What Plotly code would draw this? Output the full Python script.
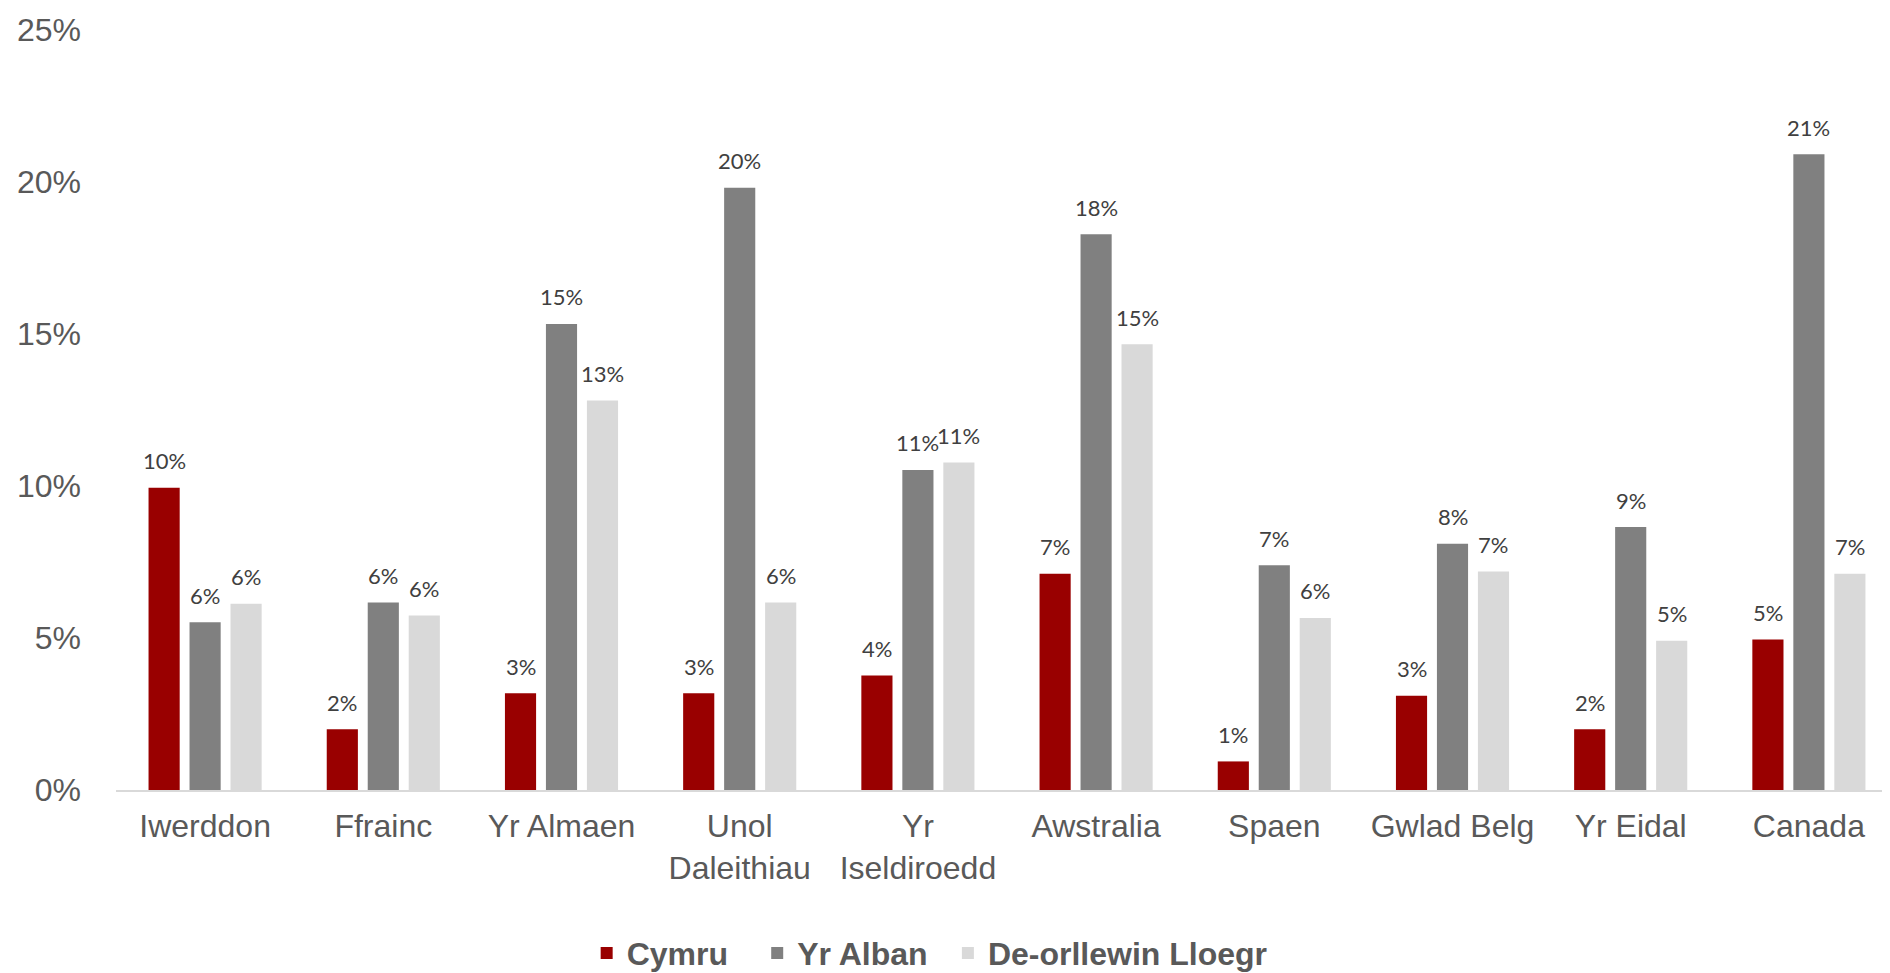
import plotly.graph_objects as go

categories = ["Iwerddon", "Ffrainc", "Yr Almaen", "Unol<br>Daleithiau", "Yr<br>Iseldiroedd",
              "Awstralia", "Spaen", "Gwlad Belg", "Yr Eidal", "Canada"]
cymru = [0.0994, 0.0200, 0.0318, 0.0318, 0.0377, 0.0711, 0.0094, 0.0310, 0.0200, 0.0495]
yr_alban = [0.0552, 0.0617, 0.1533, 0.1981, 0.1053, 0.1828, 0.0739, 0.0810, 0.0865, 0.2091]
de_orllewin = [0.0613, 0.0574, 0.1281, 0.0617, 0.1077, 0.1466, 0.0566, 0.0719, 0.0491, 0.0711]
series_names = ["Cymru", "Yr Alban", "De-orllewin Lloegr"]

colors = ["#990000", "#808080", "#d9d9d9"]
legend_pad = ["\u00a0\u00a0\u2009", "\u00a0\u2009", ""]

W, H = 1890, 973
ML, MR, MT, MB = 108, 0, 22, 182
BARGAP, BARGROUPGAP = 0.31, 0.24

fig = go.Figure()
for i, (name, vals) in enumerate(zip(series_names, [cymru, yr_alban, de_orllewin])):
    fig.add_trace(go.Bar(
        name=name + legend_pad[i], x=categories, y=vals,
        marker=dict(color=colors[i], line=dict(width=0)),
        hoverinfo="skip",
    ))

# data labels above each bar
cat_px = (W - ML - MR) / len(categories)
slot_px = (1 - BARGAP) * cat_px / 3
for i, vals in enumerate([cymru, yr_alban, de_orllewin]):
    for c, v in zip(categories, vals):
        fig.add_annotation(
            x=c, y=v, text=f"{round(v * 100):d}%", showarrow=False,
            xshift=(i - 1) * slot_px, yshift=27, yanchor="middle",
            font=dict(family="Lato", size=22, color="#404040"),
        )

fig.update_layout(
    width=W, height=H,
    margin=dict(l=ML, r=MR, t=MT, b=MB),
    plot_bgcolor="white", paper_bgcolor="white",
    barmode="group", bargap=BARGAP, bargroupgap=BARGROUPGAP,
    font=dict(family="Liberation Sans, Arial", color="#595959"),
    showlegend=True,
    legend=dict(orientation="h", x=0.4566, xanchor="center", y=-0.2146, yanchor="middle",
                font=dict(family="Liberation Sans, Arial", size=32, color="#595959", weight="bold"),
                itemwidth=30, traceorder="normal"),
)
fig.update_xaxes(showline=True, linecolor="#d9d9d9", linewidth=2, ticks="",
                 ticklabelstandoff=7,
                 tickfont=dict(size=32, color="#595959"), showgrid=False)
fig.update_yaxes(range=[0, 0.25], dtick=0.05, tickformat=".0%", showgrid=False, zeroline=False,
                 showline=False, ticks="", ticklabelstandoff=34,
                 tickfont=dict(size=32, color="#595959"))

fig.write_html("out.html")
